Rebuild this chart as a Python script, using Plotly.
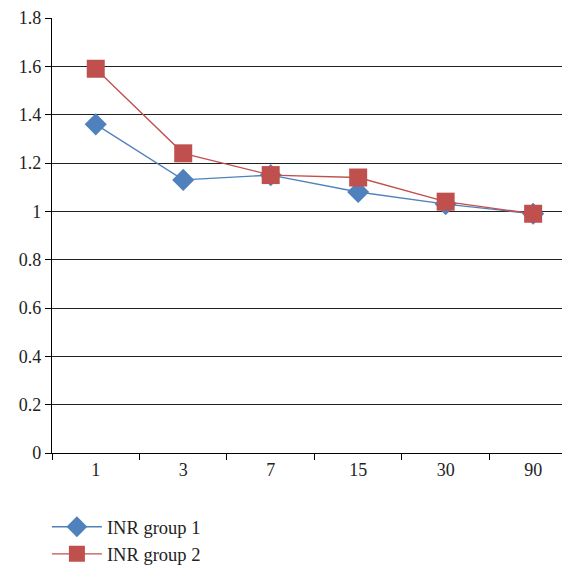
import plotly.graph_objects as go

categories = ["1", "3", "7", "15", "30", "90"]
group1 = [1.36, 1.13, 1.15, 1.08, 1.03, 0.99]
group2 = [1.59, 1.24, 1.15, 1.14, 1.04, 0.99]
y_ticks = [0, 0.2, 0.4, 0.6, 0.8, 1, 1.2, 1.4, 1.6, 1.8]
y_labels = ["0", "0.2", "0.4", "0.6", "0.8", "1", "1.2", "1.4", "1.6", "1.8"]

font_family = "Liberation Serif"

fig = go.Figure()
fig.add_trace(go.Scatter(
    x=categories, y=group1, name="INR group 1", mode="lines+markers",
    line=dict(color="#4F81BD", width=1.3),
    marker=dict(symbol="diamond", size=17, color="#4F81BD"),
))
fig.add_trace(go.Scatter(
    x=categories, y=group2, name="INR group 2", mode="lines+markers",
    line=dict(color="#C0504D", width=1.3),
    marker=dict(symbol="square", size=18, color="#C0504D"),
))

fig.update_layout(
    width=554, height=560,
    margin=dict(l=44, r=0, t=10, b=115, autoexpand=False),
    paper_bgcolor="white", plot_bgcolor="white",
    font=dict(family=font_family, size=18, color="#222"),
    showlegend=True,
    legend=dict(x=-0.01, y=-0.127, xanchor="left", yanchor="top",
                orientation="v", font=dict(size=18.5, family=font_family),
                itemwidth=50,
                bgcolor="rgba(0,0,0,0)", tracegroupgap=0),
    xaxis=dict(
        type="category", range=[-0.5, 5.33],
        showgrid=False, showline=True, linecolor="black", linewidth=1.2,
        ticks="outside", tickson="boundaries", ticklen=6, tickcolor="black",
        tickfont=dict(size=18, family=font_family), zeroline=False,
    ),
    yaxis=dict(
        range=[0, 1.8], tickvals=y_ticks, ticktext=y_labels,
        showgrid=True, gridcolor="#222", gridwidth=1,
        showline=True, linecolor="black", linewidth=1.2,
        ticks="outside", ticklen=6, tickcolor="black",
        tickfont=dict(size=18, family=font_family), zeroline=False,
    ),
)

fig.write_html("out.html")
